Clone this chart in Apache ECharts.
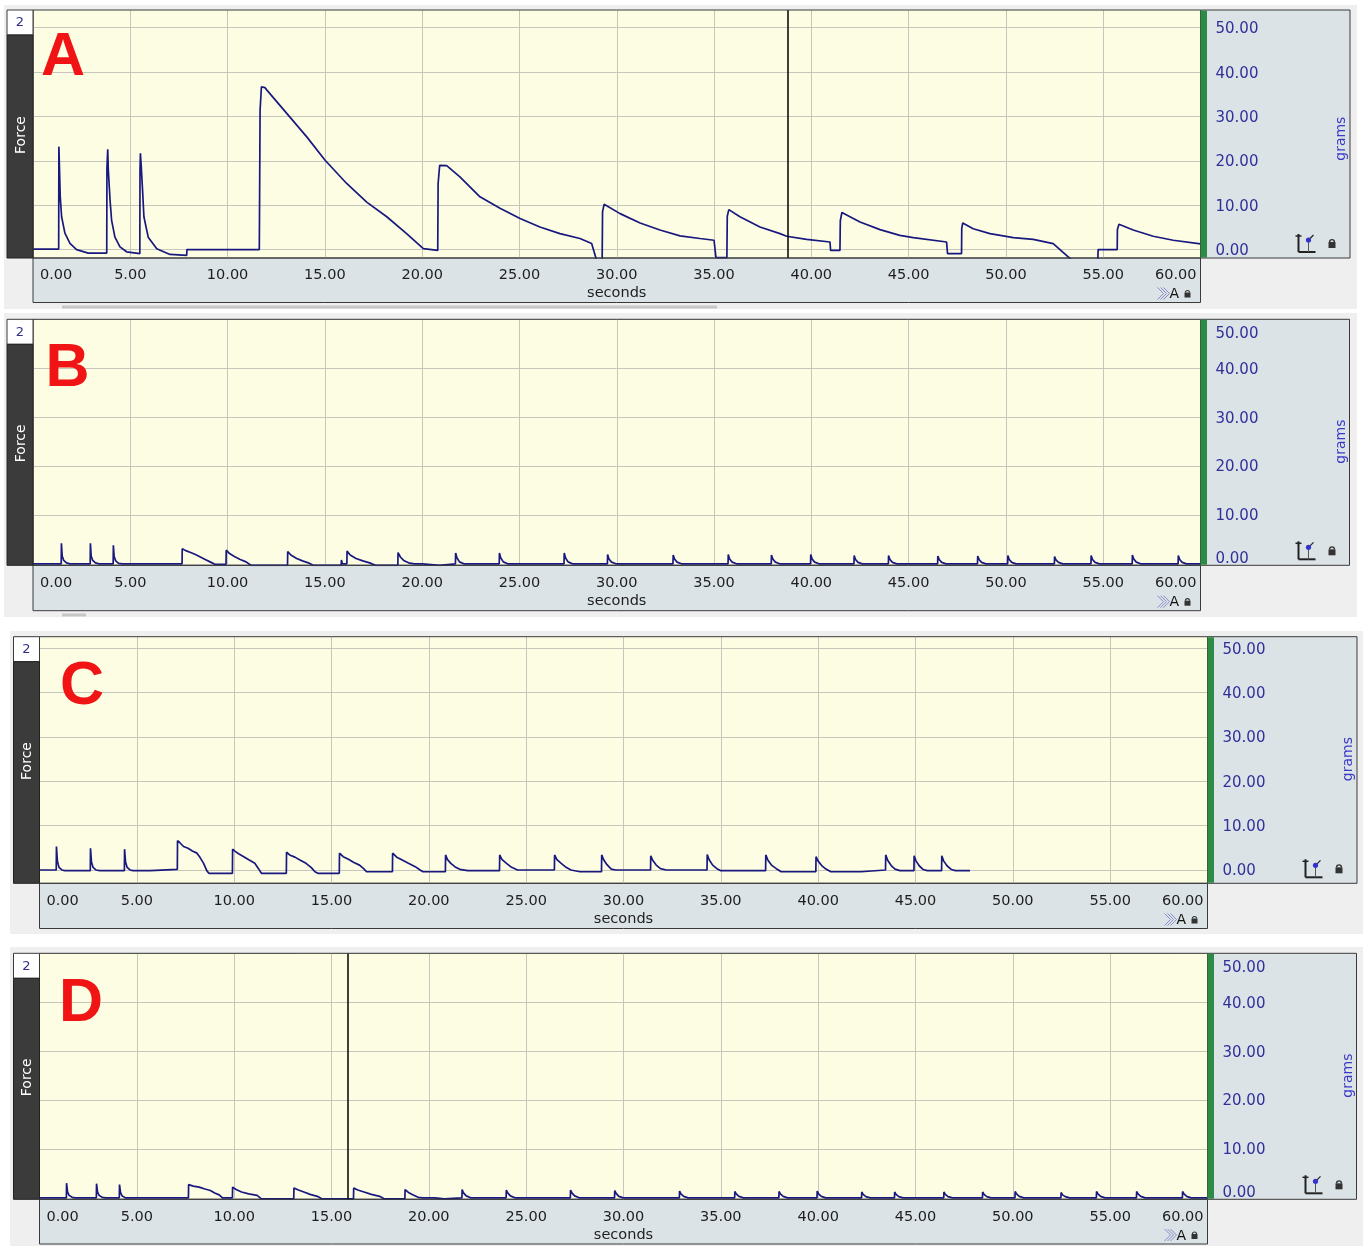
<!DOCTYPE html>
<html><head><meta charset="utf-8">
<script src="https://cdn.jsdelivr.net/npm/echarts@6/dist/echarts.min.js"></script>
<style>html,body{margin:0;padding:0;background:#fff;}#c{width:1365px;height:1246px;}</style>
</head><body><div id="c"></div>
<script>
// ---------------- DATA ----------------
const panelLetters = ['A', 'B', 'C', 'D'];
const xRange = [0, 60];
const yTickRange = [0, 50];
const yRanges = [[-1.9, 54.0], [-0.3, 50.0], [-3.0, 52.6], [-0.3, 50.0]];
const cursorA = 38.8;
const cursorD = 15.85;

const traceA = [
[0,0.1],[1.32,0.1],[1.33,23.2],[1.37,23.0],[1.40,11.9],[1.47,7.4],[1.64,3.7],[1.90,1.4],[2.24,0.0],[2.84,-0.8],[3.79,-0.8],
[3.80,18.3],[3.84,22.6],[3.87,18.0],[3.96,11.1],[4.04,6.6],[4.21,2.8],[4.47,0.6],[4.81,-0.5],[5.49,-0.9],
[5.50,18.0],[5.52,21.7],[5.56,19.0],[5.64,12.6],[5.70,7.4],[5.92,2.8],[6.36,0.2],[7.04,-1.1],[7.90,-1.3],[7.91,0],[11.63,0],
[11.64,7.0],[11.67,31.4],[11.74,36.7],[11.92,36.5],[12.01,36.0],[13.04,30.7],[14.07,25.4],[15.0,20.2],[16.12,14.9],[17.15,10.7],[18.18,7.4],[19.2,3.6],[20.06,0.2],[20.14,-0.2],[20.80,-0.2],
[20.82,14.9],[20.9,19.0],[21.26,18.9],[21.94,16.4],[22.97,11.9],[24.0,9.3],[25.03,7.0],[26.05,5.1],[27.08,3.6],[28.11,2.5],[28.71,1.35],[28.97,-2.5],[29.25,-2.5],
[29.27,8.5],[29.35,10.2],[30.17,8.1],[31.2,6.0],[32.22,4.4],[33.25,3.1],[34.28,2.5],[35.0,2.1],[35.1,-1.8],[35.66,-1.8],
[35.68,7.5],[35.76,9.0],[36.33,7.4],[37.36,5.1],[38.39,3.6],[38.73,3.0],[39.76,2.3],[40.96,1.7],[40.99,-0.2],[41.47,-0.2],
[41.49,6.5],[41.57,8.35],[42.5,6.2],[43.53,4.5],[44.55,3.2],[45.24,2.7],[46.95,1.7],[47.0,-0.9],[47.72,-0.9],
[47.73,4.7],[47.78,6.0],[48.32,4.7],[49.18,3.6],[50.38,2.7],[51.4,2.3],[52.43,1.35],[53.29,-2.0],[53.4,-2.6],[54.72,-2.6],[54.74,0],[55.72,0],
[55.73,4.5],[55.81,5.7],[56.54,4.4],[57.57,3.0],[58.6,2.1],[60,1.3]
];

const traceB = [
[0,0],[1.45,0],[1.46,4.2],[1.50,1.6],[1.58,0.7],[1.72,0.2],[1.9,0],
[2.94,0],[2.95,4.2],[2.99,1.6],[3.07,0.7],[3.21,0.2],[3.4,0],
[4.12,0],[4.13,3.8],[4.17,1.5],[4.25,0.6],[4.4,0.1],[4.6,0],
[7.66,0],[7.67,3.1],[7.85,2.7],[8.1,2.3],[8.35,1.9],[8.6,1.4],[8.85,0.9],[9.1,0.4],[9.35,-0.1],[9.92,-0.1],
[9.93,2.8],[10.1,2.1],[10.35,1.5],[10.65,0.9],[10.95,0.4],[11.2,-0.3],[13.08,-0.3],
[13.09,2.5],[13.25,1.8],[13.55,1.1],[13.85,0.6],[14.15,0.2],[14.4,-0.3],[15.84,-0.3],[15.85,0.8],[15.9,0],[16.13,0],
[16.14,2.6],[16.3,1.8],[16.6,1.1],[16.95,0.6],[17.3,0.2],[17.6,-0.3],[18.75,-0.3],
[18.76,2.3],[18.88,1.4],[19.05,0.7],[19.3,0.2],[19.6,0],[20.0,0],[20.01,-0.3],[20.9,-0.3],[20.91,0],
[21.71,0],[21.72,2.2],[21.79,1.2],[21.92,0.4],[22.14,0],
[23.96,0],[23.97,2.2],[24.04,1.2],[24.17,0.4],[24.39,0],
[27.29,0],[27.3,2.2],[27.37,1.2],[27.5,0.4],[27.72,0],
[29.52,0],[29.53,1.9],[29.6,1.0],[29.73,0.35],[29.95,0],
[32.89,0],[32.9,1.8],[32.97,1.0],[33.1,0.35],[33.32,0],
[35.72,0],[35.73,1.9],[35.8,1.0],[35.93,0.35],[36.15,0],
[37.94,0],[37.95,1.8],[38.02,1.0],[38.15,0.35],[38.37,0],
[39.96,0],[39.97,1.9],[40.04,1.0],[40.17,0.35],[40.39,0],
[42.19,0],[42.2,1.7],[42.27,0.9],[42.4,0.3],[42.62,0],
[43.96,0],[43.97,1.7],[44.04,0.9],[44.17,0.3],[44.39,0],
[46.49,0],[46.5,1.6],[46.57,0.9],[46.7,0.3],[46.92,0],
[48.54,0],[48.55,1.6],[48.62,0.9],[48.75,0.3],[48.97,0],
[50.09,0],[50.1,1.7],[50.17,0.9],[50.3,0.3],[50.52,0],
[52.49,0],[52.5,1.5],[52.57,0.8],[52.7,0.3],[52.92,0],
[54.37,0],[54.38,1.7],[54.45,0.9],[54.58,0.3],[54.8,0],
[56.49,0],[56.5,1.8],[56.57,1.0],[56.7,0.35],[56.92,0],
[58.85,0],[58.86,1.7],[58.93,0.9],[59.06,0.3],[59.28,0],[60,0]
];

const traceC = [
[0,0],[0.86,0],[0.87,5.3],[0.92,2.0],[1.0,0.6],[1.15,0],[1.3,-0.15],[2.61,-0.15],
[2.62,4.9],[2.67,1.8],[2.75,0.6],[2.9,0],[3.1,-0.15],[4.36,-0.15],
[4.37,4.7],[4.42,1.8],[4.5,0.6],[4.65,0],[4.8,-0.15],[5.69,-0.15],[5.7,0.15],[7.08,0.15],
[7.09,6.6],[7.2,6.2],[7.4,5.3],[7.63,4.9],[7.85,4.3],[8.09,3.8],[8.25,2.8],[8.43,1.5],[8.6,-0.2],[8.7,-0.75],[9.91,-0.75],
[9.92,4.7],[10.05,4.2],[10.25,3.6],[10.49,3.0],[10.75,2.3],[11.06,1.5],[11.25,0.3],[11.4,-0.75],[12.68,-0.75],
[12.69,4.0],[12.85,3.4],[13.12,2.9],[13.4,2.2],[13.69,1.5],[13.95,0.6],[14.15,-0.4],[14.3,-0.75],[15.4,-0.75],
[15.41,3.8],[15.6,3.0],[15.87,2.4],[16.15,1.7],[16.44,1.1],[16.65,0.3],[16.8,-0.4],[18.13,-0.4],
[18.14,3.8],[18.35,2.9],[18.61,2.3],[18.95,1.5],[19.3,0.75],[19.55,0],[19.7,-0.4],[20.85,-0.4],
[20.86,3.4],[20.95,2.4],[21.13,1.5],[21.35,0.7],[21.59,0.15],[22.0,-0.15],[23.63,-0.15],
[23.64,3.4],[23.75,2.4],[23.99,1.5],[24.25,0.6],[24.56,0],[26.45,0],
[26.46,3.4],[26.57,2.4],[26.8,1.5],[27.05,0.6],[27.3,0],[27.77,-0.4],[28.87,-0.4],
[28.88,3.4],[28.98,2.3],[29.15,1.2],[29.37,0.2],[29.6,0],[31.39,0],
[31.4,3.2],[31.5,2.2],[31.68,1.1],[31.9,0.3],[32.2,0],[34.29,0],
[34.3,3.5],[34.4,2.3],[34.58,1.1],[34.8,0.3],[35.0,-0.15],[37.3,-0.15],
[37.31,3.4],[37.42,2.2],[37.6,1.1],[37.85,0.3],[38.1,-0.4],[39.88,-0.4],
[39.89,3.0],[40.0,2.0],[40.18,1.0],[40.4,0.2],[40.65,-0.4],[42.2,-0.4],[42.21,0],[43.46,0],
[43.47,3.4],[43.57,2.2],[43.75,1.0],[43.95,0.2],[44.2,-0.15],[44.92,-0.15],
[44.93,3.2],[45.03,2.0],[45.2,0.9],[45.4,0.1],[45.6,-0.15],[46.34,-0.15],
[46.35,3.2],[46.45,2.0],[46.63,0.9],[46.85,0.1],[47.05,-0.15],[47.8,-0.15]
];

const traceD = [
[0,0],[1.38,0],[1.39,3.0],[1.44,1.2],[1.52,0.5],[1.68,0.1],[1.85,0],
[2.92,0],[2.93,2.9],[2.98,1.2],[3.06,0.5],[3.22,0.1],[3.4,0],
[4.1,0],[4.11,2.7],[4.16,1.1],[4.24,0.4],[4.4,0],
[7.65,0],[7.66,2.7],[7.9,2.4],[8.2,2.2],[8.5,1.8],[8.78,1.5],[9.0,1.0],[9.23,0.6],[9.4,0],[9.91,0],
[9.92,2.2],[10.1,1.7],[10.38,1.2],[10.75,0.8],[11.18,0.5],[11.4,-0.2],[13.06,-0.2],
[13.07,2.0],[13.3,1.6],[13.58,1.2],[13.9,0.7],[14.27,0.3],[14.5,-0.2],[16.13,-0.2],
[16.14,2.0],[16.35,1.6],[16.67,1.2],[17.05,0.7],[17.47,0.3],[17.7,-0.2],[18.77,-0.2],
[18.78,1.7],[18.95,1.1],[19.2,0.6],[19.45,0.1],[19.7,0],[20.3,0],[20.31,-0.2],[20.8,-0.2],[20.81,0],
[21.7,0],[21.71,1.7],[21.78,1.0],[21.92,0.4],[22.15,0],
[23.97,0],[23.98,1.6],[24.05,1.0],[24.19,0.4],[24.42,0],
[27.27,0],[27.28,1.6],[27.35,1.0],[27.49,0.4],[27.72,0],
[29.54,0],[29.55,1.5],[29.62,0.9],[29.76,0.3],[29.99,0],
[32.87,0],[32.88,1.4],[32.95,0.8],[33.09,0.3],[33.32,0],
[35.71,0],[35.72,1.3],[35.79,0.8],[35.93,0.3],[36.16,0],
[37.98,0],[37.99,1.3],[38.06,0.8],[38.2,0.3],[38.43,0],
[39.94,0],[39.95,1.4],[40.02,0.8],[40.16,0.3],[40.39,0],
[42.23,0],[42.24,1.2],[42.31,0.7],[42.45,0.25],[42.68,0],
[43.92,0],[43.93,1.2],[44.0,0.7],[44.14,0.25],[44.37,0],
[46.45,0],[46.46,1.2],[46.53,0.7],[46.67,0.25],[46.9,0],
[48.44,0],[48.45,1.2],[48.52,0.7],[48.66,0.25],[48.89,0],
[50.11,0],[50.12,1.3],[50.19,0.8],[50.33,0.3],[50.56,0],
[52.47,0],[52.48,1.1],[52.55,0.6],[52.69,0.25],[52.92,0],
[54.29,0],[54.3,1.3],[54.37,0.8],[54.51,0.3],[54.74,0],
[56.35,0],[56.36,1.3],[56.43,0.8],[56.57,0.3],[56.8,0],
[58.71,0],[58.72,1.3],[58.79,0.8],[58.93,0.3],[59.16,0],[60,0]
];

const traces = [traceA, traceB, traceC, traceD];
const cursors = [cursorA, null, null, cursorD];

// ---------------- LAYOUT / STYLE ----------------
const FONT = 'DejaVu Sans';
const C = {
  outer: '#EFEFEF', plot: '#FDFDE4', grid: '#C6C6BC', panel: '#DCE3E6',
  border: '#3a3a3a', dark: '#3b3b3b', green: '#2E8B45', trace: '#18187F',
  ylab: '#30309A', yname: '#3A3AC8', xlab: '#1e1e1e', red: '#F01414'
};
const P = [
  {L:33,   T:10,    R:1200.5, B:258,    BB:302.5, RR:1350,   box:7,    outer:[4,5,1357,309],    scroll:[62,305.5,717,308.5], letter:[63,58],    edge:false},
  {L:33,   T:319.3, R:1200.5, B:565.3,  BB:610.7, RR:1349.5, box:7,    outer:[4,313,1357,617],  scroll:[62,613.5,86,616.5],  letter:[67.5,369], edge:true},
  {L:39.5, T:636.7, R:1207.5, B:883.3,  BB:928.5, RR:1357,   box:13.5, outer:[10,631,1363,934], scroll:null,                letter:[82,687.5], edge:false},
  {L:39.5, T:953.3, R:1207.5, B:1199.3, BB:1244,  RR:1356.5, box:13.5, outer:[10,947,1363,1246],scroll:null,                letter:[81,1004],  edge:true}
];

const grids = [], xAxes = [], yAxes = [], series = [], gfx = [];
function rect(x0, y0, x1, y1, style, z) {
  return {type:'rect', silent:true, z:z, shape:{x:x0, y:y0, width:x1-x0, height:y1-y0}, style:style};
}
function line(x1, y1, x2, y2, stroke, w, z) {
  return {type:'line', silent:true, z:z, shape:{x1:x1, y1:y1, x2:x2, y2:y2}, style:{stroke:stroke, lineWidth:w}};
}
function fmtX(v) {
  if (v === xRange[0]) return '{l|' + v.toFixed(2) + '}';
  if (v === xRange[1]) return '{r|' + v.toFixed(2) + '}';
  return v.toFixed(2);
}

P.forEach(function (p, i) {
  const lo = yRanges[i][0], hi = yRanges[i][1];
  const h = p.B - p.T;
  const y50 = p.T + h * (hi - yTickRange[1]) / (hi - lo);
  const y0 = p.T + h * (hi - yTickRange[0]) / (hi - lo);
  grids.push({left:p.L, top:p.T, width:p.R - p.L, height:h, show:false, containLabel:false, outerBoundsMode:'none'});
  grids.push({left:p.L, top:y50, width:p.R - p.L, height:y0 - y50, show:false, containLabel:false, outerBoundsMode:'none'});
  const lblStyle = {fontSize:14.5, color:C.xlab, fontFamily:FONT};
  xAxes.push({
    gridIndex:2*i, type:'value', min:xRange[0], max:xRange[1], interval:5,
    axisLine:{show:false}, axisTick:{show:false},
    splitLine:{show:true, lineStyle:{color:C.grid, width:1}},
    axisLabel:{show:true, margin:10, fontSize:14.5, color:C.xlab, fontFamily:FONT, formatter:fmtX,
      showMinLabel:true, showMaxLabel:true, hideOverlap:false,
      alignMinLabel:'left', alignMaxLabel:'right',
      rich:{l:Object.assign({padding:[0,0,0,7]}, lblStyle), r:Object.assign({padding:[0,4,0,0]}, lblStyle)}},
    name:'seconds', nameLocation:'middle', nameGap:28,
    nameTextStyle:{fontSize:14.5, color:C.xlab, fontFamily:FONT}
  });
  xAxes.push({gridIndex:2*i+1, type:'value', min:xRange[0], max:xRange[1], show:false});
  yAxes.push({gridIndex:2*i, type:'value', min:lo, max:hi, show:false});
  const ys = {fontSize:15, color:C.ylab, fontFamily:FONT};
  const edge = p.edge;
  const yl = {show:true, margin:15, fontSize:15, color:C.ylab, fontFamily:FONT,
    formatter:function (v) {
      const s = v.toFixed(2);
      if (edge && v === yTickRange[1]) return '{t|' + s + '}';
      if (edge && v === yTickRange[0]) return '{b|' + s + '}';
      return '{n|' + s + '}';
    },
    rich:{
      n:Object.assign({padding:[3,0,0,0]}, ys),
      t:Object.assign({lineHeight:29}, ys),
      b:Object.assign({lineHeight:8.5}, ys)
    },
    showMinLabel:true, showMaxLabel:true};
  if (edge) { yl.verticalAlignMaxLabel = 'top'; yl.verticalAlignMinLabel = 'bottom'; }
  yAxes.push({
    gridIndex:2*i+1, type:'value', position:'right', min:yTickRange[0], max:yTickRange[1], interval:10,
    axisLine:{show:false}, axisTick:{show:false},
    splitLine:{show:true, lineStyle:{color:C.grid, width:1}},
    axisLabel:yl,
    name:'grams', nameLocation:'middle', nameRotate:90, nameGap:134,
    nameTextStyle:{fontSize:14, color:C.yname, fontFamily:FONT}
  });
  const s = {
    type:'line', xAxisIndex:2*i, yAxisIndex:2*i, data:traces[i], showSymbol:false, symbol:'none',
    lineStyle:{color:C.trace, width:1.7}, itemStyle:{color:C.trace}, clip:true, silent:true, z:3
  };
  if (cursors[i] !== null) {
    s.markLine = {silent:true, symbol:'none', label:{show:false}, animation:false,
      lineStyle:{color:'#000', width:1.5, type:'solid'}, data:[{xAxis:cursors[i]}]};
  }
  series.push(s);

  // decorations
  const o = p.outer;
  gfx.push(rect(o[0], o[1], o[2], o[3], {fill:C.outer}, -20));
  gfx.push(rect(p.L, p.T, p.R, p.B, {fill:C.plot}, -10));
  gfx.push(rect(p.L, p.B, p.R, p.BB, {fill:C.panel, stroke:C.border, lineWidth:1}, -9));
  gfx.push(rect(p.R, p.T, p.RR, p.B, {fill:C.panel, stroke:C.border, lineWidth:1}, -9));
  gfx.push(rect(p.L, p.T, p.R, p.B, {fill:null, stroke:C.border, lineWidth:1}, 20));
  gfx.push(rect(p.R, p.T + 0.5, p.R + 6.5, p.B - 0.5, {fill:C.green}, 21));
  gfx.push(rect(p.box, p.T, p.L, p.T + 25, {fill:'#fff', stroke:C.border, lineWidth:1}, 21));
  gfx.push({type:'text', silent:true, z:22, x:(p.box + p.L) / 2, y:p.T + 13,
    style:{text:'2', fill:'#30308a', font:'13px ' + FONT, align:'center', verticalAlign:'middle'}});
  gfx.push(rect(p.box, p.T + 25, p.L, p.B, {fill:C.dark, stroke:'#222', lineWidth:1}, 21));
  gfx.push({type:'text', silent:true, z:22, x:(p.box + p.L) / 2 + 1, y:(p.T + p.B) / 2 + 1, rotation:Math.PI / 2,
    style:{text:'Force', fill:'#fff', font:'14px ' + FONT, align:'center', verticalAlign:'middle'}});
  gfx.push({type:'text', silent:true, z:30, x:p.letter[0], y:p.letter[1],
    style:{text:panelLetters[i], fill:C.red, font:'bold 61px "Liberation Sans"', align:'center', verticalAlign:'middle'}});
  if (p.scroll) gfx.push(rect(p.scroll[0], p.scroll[1], p.scroll[2], p.scroll[3], {fill:'#C6C6C6'}, -15));
  const ix = p.R + 98, iy = p.B - 6;
  gfx.push(line(ix, iy - 18, ix, iy, '#222', 2, 25));
  gfx.push(line(ix, iy, ix + 17, iy, '#222', 2, 25));
  gfx.push(line(ix - 3, iy - 16, ix + 3, iy - 16, '#222', 1.5, 25));
  gfx.push(line(ix + 10, iy - 12, ix + 15, iy - 17, '#222', 1.2, 25));
  gfx.push(line(ix + 10, iy - 12, ix + 10, iy, '#555', 1, 25));
  gfx.push({type:'circle', silent:true, z:26, shape:{cx:ix + 10, cy:iy - 12, r:2.6}, style:{fill:'#3333cc'}});
  const lx = p.R + 128, ly = p.B - 16;
  gfx.push(rect(lx, ly, lx + 7, ly + 6, {fill:'#333'}, 25));
  gfx.push({type:'arc', silent:true, z:25, shape:{cx:lx + 3.5, cy:ly, r:2.4, startAngle:Math.PI, endAngle:Math.PI * 2},
    style:{stroke:'#333', fill:null, lineWidth:1.4}});
  const cx = p.R - 43, cy = p.BB - 9;
  gfx.push({type:'polyline', silent:true, z:25, shape:{points:[[cx, cy - 6], [cx + 6, cy], [cx, cy + 6]]}, style:{stroke:'#8c8cc8', fill:null, lineWidth:1}});
  gfx.push({type:'polyline', silent:true, z:25, shape:{points:[[cx + 3, cy - 6], [cx + 9, cy], [cx + 3, cy + 6]]}, style:{stroke:'#8c8cc8', fill:null, lineWidth:1}});
  gfx.push({type:'polyline', silent:true, z:25, shape:{points:[[cx + 6, cy - 6], [cx + 12, cy], [cx + 6, cy + 6]]}, style:{stroke:'#8c8cc8', fill:null, lineWidth:1}});
  gfx.push({type:'text', silent:true, z:25, x:cx + 12, y:cy + 1,
    style:{text:'A', fill:'#111', font:'14px ' + FONT, align:'left', verticalAlign:'middle'}});
  const kx = p.R - 16, ky = p.BB - 10;
  gfx.push(rect(kx, ky, kx + 6, ky + 5, {fill:'#333'}, 25));
  gfx.push({type:'arc', silent:true, z:25, shape:{cx:kx + 3, cy:ky, r:2, startAngle:Math.PI, endAngle:Math.PI * 2},
    style:{stroke:'#333', fill:null, lineWidth:1.2}});
});

const chart = echarts.init(document.getElementById('c'), null, {renderer:'canvas'});
chart.setOption({
  animation:false,
  backgroundColor:'#ffffff',
  grid:grids, xAxis:xAxes, yAxis:yAxes, series:series,
  graphic:{elements:gfx}
});
</script>
</body></html>
